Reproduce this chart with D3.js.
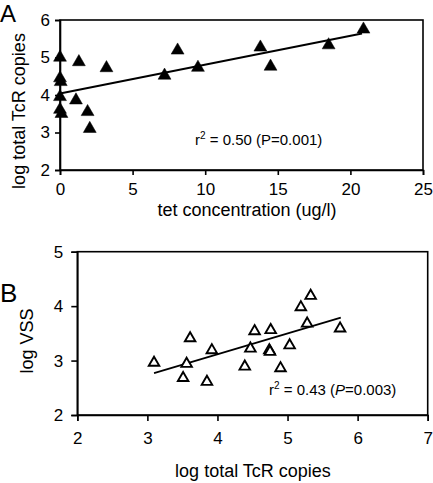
<!DOCTYPE html>
<html>
<head>
<meta charset="utf-8">
<script src="https://cdn.jsdelivr.net/npm/d3@7"></script>
<style>
  html, body { margin: 0; padding: 0; background: #fff; }
  svg { display: block; font-family: "Liberation Sans", Arial, sans-serif; }
</style>
</head>
<body>
<svg id="chart" width="433" height="483"></svg>
<script>
// ---- Panel A data ----
const tetConc = [0, 0, 0.05, 0, 0, 0.1, 1.1, 1.3, 1.9, 2.05, 3.2, 7.2, 8.1, 9.5, 13.8, 14.5, 18.5, 20.9];
const logTcR_A = [5.0, 4.45, 4.35, 3.95, 3.61, 3.50, 3.86, 4.88, 3.55, 3.10, 4.72, 4.52, 5.19, 4.73, 5.27, 4.76, 5.33, 5.75];
const fitA_x = [0, 20.8];
const fitA_y = [4.04, 5.64];
const xTicksA = [0, 5, 10, 15, 20, 25];
const yTicksA = [2, 3, 4, 5, 6];

// ---- Panel B data ----
const logTcR_B = [3.095, 3.56, 3.51, 3.61, 3.85, 3.92, 4.39, 4.47, 4.53, 4.76, 4.74, 4.75, 4.90, 5.03, 5.19, 5.33, 5.28, 5.75];
const logVSS = [2.96, 2.94, 2.68, 3.41, 2.61, 3.19, 2.89, 3.22, 3.54, 3.56, 3.19, 3.16, 2.86, 3.28, 3.98, 4.19, 3.68, 3.59];
const fitB_x = [3.095, 5.76];
const fitB_y = [2.77, 3.79];
const xTicksB = [2, 3, 4, 5, 6, 7];
const yTicksB = [2, 3, 4, 5];

const svg = d3.select("#chart");

function panel(opts) {
  const g = svg.append("g");
  const x = d3.scaleLinear().domain(opts.xDomain).range(opts.xRange);
  const y = d3.scaleLinear().domain(opts.yDomain).range(opts.yRange);

  // frame
  g.append("rect")
    .attr("x", opts.xRange[0]).attr("y", opts.yRange[1])
    .attr("width", opts.xRange[1] - opts.xRange[0])
    .attr("height", opts.yRange[0] - opts.yRange[1])
    .attr("fill", "none").attr("stroke", "#000").attr("stroke-width", 1.6);

  const xa = g.append("g").attr("transform", `translate(0,${opts.yRange[0]})`)
    .call(d3.axisBottom(x).tickValues(opts.xTicks).tickSize(opts.tick).tickPadding(opts.xPad).tickFormat(d3.format("d")));
  const ya = g.append("g").attr("transform", `translate(${opts.xRange[0]},0)`)
    .call(d3.axisLeft(y).tickValues(opts.yTicks).tickSize(opts.tick).tickPadding(opts.yPad).tickFormat(d3.format("d")));
  [xa, ya].forEach(a => {
    a.select(".domain").attr("stroke", "#000").attr("stroke-width", 1.6);
    a.selectAll(".tick line").attr("stroke", "#000").attr("stroke-width", 1.6);
    a.selectAll(".tick text").attr("fill", "#000")
      .style("font-size", "17px").style("font-family", "'Liberation Sans', Arial, sans-serif");
  });

  // fit line
  const fitPts = opts.fitX.map((v, i) => [v, opts.fitY[i]]);
  g.append("path").datum(fitPts)
    .attr("d", d3.line().x(d => x(d[0])).y(d => y(d[1])))
    .attr("fill", "none").attr("stroke", "#000").attr("stroke-width", 1.8);

  // points
  const pts = opts.xs.map((v, i) => [v, opts.ys[i]]);
  g.selectAll("path.pt").data(pts).enter().append("path")
    .attr("class", "pt")
    .attr("transform", d => `translate(${x(d[0])},${y(d[1])})`)
    .attr("d", d3.symbol().type(d3.symbolTriangle).size(opts.symSize))
    .attr("fill", opts.filled ? "#000" : "#fff")
    .attr("stroke", "#000")
    .attr("stroke-width", opts.filled ? 0.5 : 1.9)
    .attr("stroke-linejoin", "miter");

  return { x, y, g };
}

// Panel A
const A = panel({
  xDomain: [0, 25], xRange: [60, 423],
  yDomain: [2, 6], yRange: [170, 20],
  xTicks: xTicksA, yTicks: yTicksA,
  tick: 5, xPad: 8, yPad: 5,
  fitX: fitA_x, fitY: fitA_y,
  xs: tetConc, ys: logTcR_A,
  symSize: 72, filled: true
});

// Panel B
const B = panel({
  xDomain: [2, 7], xRange: [77.3, 427.7],
  yDomain: [2, 5], yRange: [415, 251.7],
  xTicks: xTicksB, yTicks: yTicksB,
  tick: 6, xPad: 11, yPad: 8,
  fitX: fitB_x, fitY: fitB_y,
  xs: logTcR_B, ys: logVSS,
  symSize: 48, filled: false
});

// Titles
function txt(x, y, s, size, opt = {}) {
  const t = svg.append("text").attr("x", x).attr("y", y)
    .attr("text-anchor", opt.anchor || "middle")
    .style("font-size", size + "px").attr("fill", "#000").text(s);
  if (opt.rotate) t.attr("transform", `rotate(-90,${x},${y})`);
  return t;
}
txt(247, 216, "tet concentration (ug/l)", 18);
txt(25, 111, "log total TcR copies", 18, { rotate: true });
txt(253, 477, "log total TcR copies", 18);
txt(33, 341, "log VSS", 18, { rotate: true });
txt(0, 22, "A", 24, { anchor: "start" });
txt(0, 302, "B", 26, { anchor: "start" });

// Annotations
function ann(x, y, rest, italicP) {
  const t = svg.append("text").attr("x", x).attr("y", y)
    .style("font-size", "15px").attr("fill", "#000");
  t.append("tspan").text("r");
  t.append("tspan").attr("dy", -6).style("font-size", "10px").text("2");
  if (italicP) {
    t.append("tspan").attr("dy", 6).text(" = " + rest[0] + " (");
    t.append("tspan").style("font-style", "italic").text("P");
    t.append("tspan").text("=" + rest[1] + ")");
  } else {
    t.append("tspan").attr("dy", 6).text(" = " + rest[0] + " (P=" + rest[1] + ")");
  }
}
ann(195, 145, ["0.50", "0.001"], false);
ann(269, 395, ["0.43", "0.003"], true);
</script>
</body>
</html>
